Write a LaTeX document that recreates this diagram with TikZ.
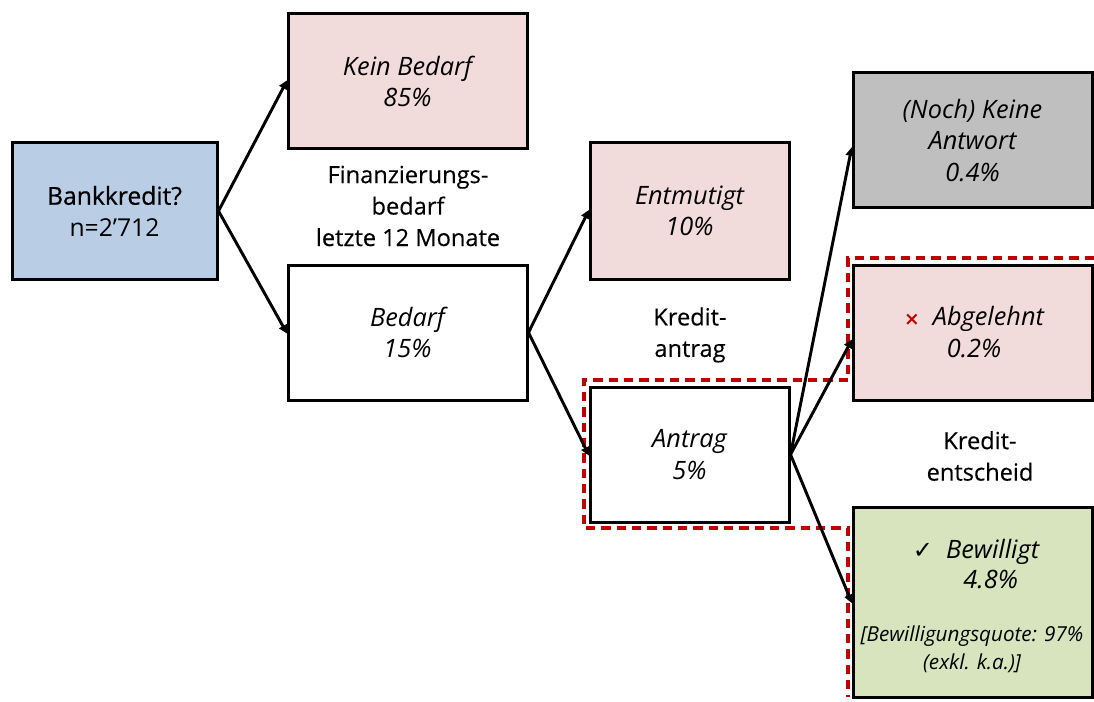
\documentclass[tikz,border=0pt]{standalone}
\usepackage{fontspec}
\setmainfont{Open Sans}
\newfontfamily\symfont{DejaVu Sans}
\newfontfamily\boldish{Open Sans}[FakeBold=0.6]
\newfontfamily\medish{Open Sans}[FakeBold=0.3]
\usetikzlibrary{arrows.meta}
\definecolor{cblue}{HTML}{B9CDE5}
\definecolor{cpink}{HTML}{F2DCDB}
\definecolor{cgray}{HTML}{BFBFBF}
\definecolor{cgreen}{HTML}{D7E4BD}
\definecolor{cred}{HTML}{C00000}
\tikzset{
  boxnode/.style={draw=black, line width=2.25pt, inner sep=0pt, align=center,
    font=\fontsize{19}{23.5}\selectfont\itshape},
  lbl/.style={inner sep=0pt, align=center, font=\medish\fontsize{17.7}{23.6}\selectfont},
  conn/.style={line width=2.2pt, -{Triangle[length=6.5pt,width=6.5pt]}, shorten >=-1pt},
  redline/.style={draw=cred, line width=2.6pt, dash pattern=on 7pt off 4.5pt}
}
\begin{document}
\begin{tikzpicture}[x=0.75pt,y=-0.75pt]
\useasboundingbox (0,0) rectangle (1094,702);
\node[boxnode, fill=cblue, minimum width=153.75pt, minimum height=102pt] (bank) at (114.5,211) {};
\node[inner sep=0pt, align=center, font=\fontsize{18.5}{23.5}\selectfont] (banktxt) at (114.5,211) {{\boldish Bankkredit?}\\n=2’712};
\node[boxnode, fill=cpink, minimum width=179.25pt, minimum height=101.25pt] (kein) at (407.5,81.5) {Kein Bedarf\\85\%};
\node[boxnode, fill=white, minimum width=179.25pt, minimum height=101.25pt] (bedarf) at (407.5,332.5) {Bedarf\\15\%};
\node[boxnode, fill=cpink, minimum width=149.25pt, minimum height=102pt] (entm) at (689.5,211) {Entmutigt\\10\%};
\node[boxnode, fill=white, minimum width=149.25pt, minimum height=101.25pt] (antrag) at (689.5,454.5) {Antrag\\5\%};
\node[boxnode, fill=cgray, minimum width=179.25pt, minimum height=101.25pt] (noch) at (972.5,140.5) {(Noch) Keine\\Antwort\\0.4\%};
\node[boxnode, fill=cpink, minimum width=179.25pt, minimum height=101.25pt] (abgel) at (972.5,332.5) {};
\node[inner sep=0pt, align=center, font=\fontsize{19}{23.5}\selectfont\itshape] (abgeltxt) at (974,332) {{\upshape\symfont\fontsize{14}{14}\selectfont\bfseries\color{cred}×}\ \ Abgelehnt\\0.2\%};
\node[boxnode, fill=cgreen, minimum width=179.25pt, minimum height=142.5pt] (bew) at (972.5,602) {};
\node[inner sep=0pt, align=center, font=\fontsize{19}{23}\selectfont\itshape] (bewtxt) at (976,564) {{\upshape\symfont\fontsize{18}{18}\selectfont ✓}\ \ Bewilligt\\\hspace*{22pt}4.8\%};
\node[inner sep=0pt, align=center, font=\fontsize{15.5}{21}\selectfont\itshape] (quote) at (972,649) {[Bewilligungsquote: 97\%\\(exkl. k.a.)]};
\node[lbl] (fin) at (408,206) {Finanzierungs-\\bedarf\\letzte 12 Monate};
\node[lbl] (kant) at (690,335) {Kredit-\\antrag};
\node[lbl] (kent) at (980,456) {Kredit-\\entscheid};
\draw[redline] (1094,258) -- (848,258) -- (848,380) -- (584,380) -- (584,528) -- (848,528) -- (848,697);
\draw[conn] (bank.east) -- (kein.west);
\draw[conn] (bank.east) -- (bedarf.west);
\draw[conn] (bedarf.east) -- (entm.west);
\draw[conn] (bedarf.east) -- (antrag.west);
\draw[conn] (antrag.east) -- ([yshift=-6pt]noch.west);
\draw[conn] (antrag.east) -- ([yshift=-6pt]abgel.west);
\draw[conn] (antrag.east) -- (bew.west);
\end{tikzpicture}
\end{document}
